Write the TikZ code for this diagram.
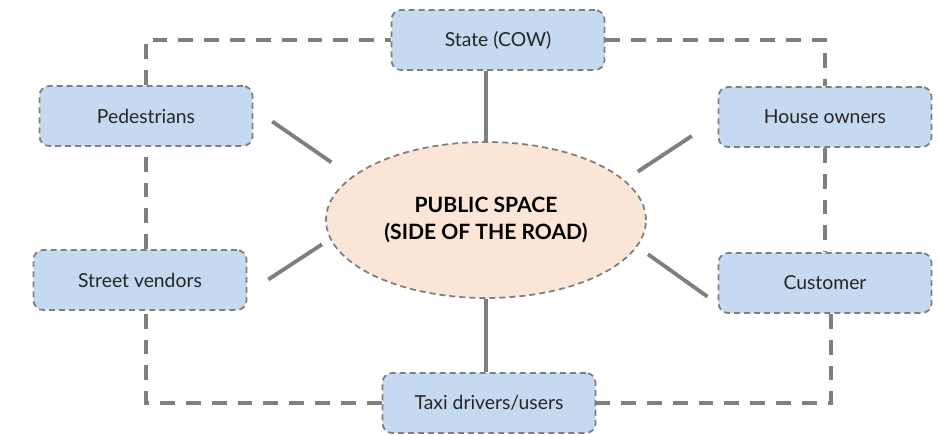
\documentclass[tikz,border=0pt]{standalone}
\usepackage{fontspec}
\setmainfont{Lato}
\usepackage{tikz}
\usetikzlibrary{shapes.geometric}

\definecolor{actorblue}{RGB}{197,217,241}
\definecolor{spacepeach}{RGB}{251,229,214}
\definecolor{linkgray}{RGB}{127,127,127}
\definecolor{textgray}{RGB}{38,38,38}

\begin{document}
\begin{tikzpicture}[line cap=butt]
% Styles
\tikzstyle{actor}=[rectangle, rounded corners=5.5pt, fill=actorblue, draw=linkgray,
  line width=1pt, dash pattern=on 3.4pt off 2.3pt, minimum width=4.26cm,
  minimum height=1.2cm, text=textgray, font=\fontsize{11}{13}\selectfont]
\tikzstyle{public space}=[ellipse, fill=spacepeach, draw=linkgray, line width=1pt,
  dash pattern=on 3.4pt off 2.3pt, minimum width=6.4cm, minimum height=3.12cm,
  inner sep=0pt, align=center, text=black, font=\fontsize{12}{15.3}\selectfont\bfseries]
\tikzstyle{link}=[draw=linkgray, line width=2.3pt, dash pattern=on 8.5pt off 6.2pt]
\tikzstyle{spoke}=[draw=linkgray, line width=2.2pt]
\useasboundingbox (0,0) rectangle (18.82,8.68);
% The graphic
\node[style=public space] (pub) at (9.72,4.28) {PUBLIC SPACE\\(SIDE OF THE ROAD)};
\node[style=actor] (state) at (9.96,7.88) {State (COW)};
\node[style=actor] (ped)   at (2.92,6.36) {Pedestrians};
\node[style=actor] (hown)  at (16.5,6.34) {House owners};
\node[style=actor] (sv)    at (2.80,3.08) {Street vendors};
\node[style=actor] (cust)  at (16.5,3.02) {Customer};
\node[style=actor] (taxi)  at (9.78,0.62) {Taxi drivers/users};
% the dashed ring round the actors
\draw[style=link] (ped.north) |- (state.west);
\draw[style=link] (state.east) -| (hown.north);
\draw[style=link] (hown.south) -- (cust.north);
\draw[style=link] ([xshift=0.12cm]cust.south) |- (taxi.east);
\draw[style=link] (taxi.west) -| (ped |- sv.south);
\draw[style=link] (ped |- sv.north) -- (ped.south);
% solid lines towards the public space
\draw[style=spoke] (state.south -| pub.north) -- (pub.north);
\draw[style=spoke] (pub.south) -- (pub.south |- taxi.north);
\foreach \from/\to/\sa/\sb in {ped.4/pub.162/0.46/0.5, sv.-7/pub.187/0.5/0.19,
  hown.181/pub.16/0.62/0.31, cust.191/pub.-10/0.25/0.26}
  \draw[style=spoke, shorten <=\sa cm, shorten >=\sb cm] (\from) -- (\to);
\end{tikzpicture}
\end{document}
